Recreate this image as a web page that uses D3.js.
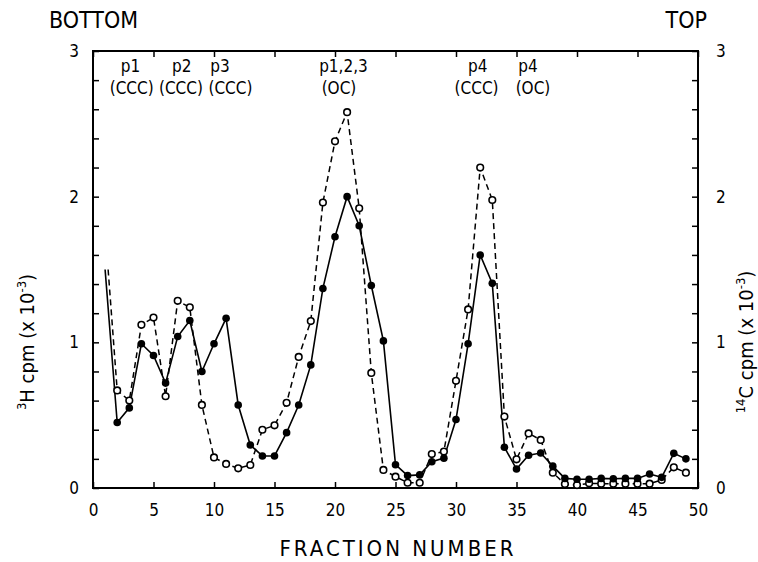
<!DOCTYPE html>
<html>
<head>
<meta charset="utf-8">
<script src="https://cdn.jsdelivr.net/npm/d3@7"></script>
<style>
  body { margin: 0; background: #fff; }
  svg text { font-family: "DejaVu Sans Condensed", "Liberation Sans Narrow", sans-serif; fill: #000; }
</style>
</head>
<body>
<div id="content"></div>
<script>
// fractions with markers
const fractions = [2, 3, 4, 5, 6, 7, 8, 9, 10, 11, 12, 13, 14, 15, 16, 17, 18, 19, 20, 21, 22, 23, 24, 25,
  26, 27, 28, 29, 30, 31, 32, 33, 34, 35, 36, 37, 38, 39, 40, 41, 42, 43, 44, 45, 46, 47, 48, 49];

// 3H (solid, filled dots)
const h3Start = [1.0, 1.5];
const h3 = [0.45, 0.55, 0.99, 0.91, 0.72, 1.04, 1.15, 0.80, 0.99, 1.165, 0.57, 0.295, 0.22, 0.22,
  0.38, 0.57, 0.845, 1.37, 1.725, 2.0, 1.80, 1.39, 1.01, 0.16, 0.085, 0.09, 0.18, 0.205, 0.47,
  0.99, 1.60, 1.405, 0.28, 0.13, 0.225, 0.24, 0.15, 0.066, 0.06, 0.06, 0.066, 0.064, 0.066, 0.066,
  0.096, 0.073, 0.238, 0.20];

// 14C (dashed, open dots)
const c14Start = [1.25, 1.5];
const c14 = [0.67, 0.60, 1.12, 1.17, 0.63, 1.285, 1.24, 0.57, 0.21, 0.165, 0.135, 0.158, 0.40, 0.43,
  0.585, 0.90, 1.146, 1.96, 2.38, 2.58, 1.92, 0.79, 0.124, 0.078, 0.036, 0.036, 0.233, 0.25, 0.736,
  1.226, 2.20, 1.977, 0.49, 0.197, 0.375, 0.33, 0.105, 0.027, 0.02, 0.032, 0.03, 0.03, 0.03, 0.03,
  0.03, 0.055, 0.142, 0.105];

const xTicks = [0, 5, 10, 15, 20, 25, 30, 35, 40, 45, 50];
const yLabels = [0, 1, 2, 3];
const yMinor = [0, 0.2, 0.4, 0.6, 0.8, 1, 1.2, 1.4, 1.6, 1.8, 2, 2.2, 2.4, 2.6, 2.8, 3];

// peak labels: fraction positions of the upper and lower line
const peakTop = ["p1", "p2", "p3", "p1,2,3", "p4", "p4"];
const peakTopAt = [3.1, 7.33, 10.5, 20.7, 31.8, 35.95];
const peakBottom = ["(CCC)", "(CCC)", "(CCC)", "(OC)", "(CCC)", "(OC)"];
const peakBottomAt = [3.2, 7.27, 11.36, 20.33, 31.7, 36.36];

const svg = d3.select("#content").append("svg")
  .attr("width", 758).attr("height", 562);

const margin = { top: 51, right: 60, bottom: 74, left: 93 };
const width = 758 - margin.left - margin.right;
const height = 562 - margin.top - margin.bottom;

const x = d3.scaleLinear().domain([0, 50]).range([0, width]);
const y = d3.scaleLinear().domain([0, 3]).range([height, 0]);

const g = svg.append("g")
  .attr("transform", `translate(${margin.left},${margin.top})`);

// frame
g.append("rect")
  .attr("width", width).attr("height", height)
  .attr("fill", "none").attr("stroke", "#000").attr("stroke-width", 2);

function styleAxis(sel) {
  sel.select(".domain").remove();
  sel.selectAll(".tick line").attr("stroke", "#000").attr("stroke-width", 1.5);
  sel.selectAll(".tick text").style("font-size", "17px");
}

g.append("g")
  .attr("transform", `translate(0,${height})`)
  .call(d3.axisBottom(x).tickValues(xTicks).tickSize(-6).tickPadding(16))
  .call(styleAxis);

g.append("g")
  .call(d3.axisTop(x).tickValues(xTicks).tickSize(-6).tickFormat(""))
  .call(styleAxis);

g.append("g")
  .call(d3.axisLeft(y).tickValues(yMinor).tickSize(-6).tickFormat(""))
  .call(styleAxis);

g.append("g")
  .attr("transform", `translate(${width},0)`)
  .call(d3.axisRight(y).tickValues(yMinor).tickSize(-6).tickFormat(""))
  .call(styleAxis);

g.append("g")
  .call(d3.axisLeft(y).tickValues(yLabels).tickSize(0).tickPadding(14).tickFormat(d3.format("d")))
  .call(styleAxis);

g.append("g")
  .attr("transform", `translate(${width},0)`)
  .call(d3.axisRight(y).tickValues(yLabels).tickSize(0).tickPadding(18).tickFormat(d3.format("d")))
  .call(styleAxis);

const h3Data = [h3Start].concat(fractions.map((f, i) => [f, h3[i]]));
const c14Data = [c14Start].concat(fractions.map((f, i) => [f, c14[i]]));

const line = d3.line().x(d => x(d[0])).y(d => y(d[1]));

g.append("path").datum(c14Data)
  .attr("fill", "none").attr("stroke", "#000").attr("stroke-width", 1.5)
  .attr("stroke-dasharray", "6,4").attr("d", line);

g.append("path").datum(h3Data)
  .attr("fill", "none").attr("stroke", "#000").attr("stroke-width", 1.6)
  .attr("d", line);

g.selectAll("circle.open").data(c14Data.slice(1)).enter().append("circle")
  .attr("class", "open")
  .attr("cx", d => x(d[0])).attr("cy", d => y(d[1])).attr("r", 3.3)
  .attr("fill", "#fff").attr("stroke", "#000").attr("stroke-width", 1.6);

g.selectAll("circle.filled").data(h3Data.slice(1)).enter().append("circle")
  .attr("class", "filled")
  .attr("cx", d => x(d[0])).attr("cy", d => y(d[1])).attr("r", 3.8)
  .attr("fill", "#000");

// peak labels
g.selectAll("text.ptop").data(peakTop).enter().append("text")
  .attr("class", "ptop")
  .attr("x", (d, i) => x(peakTopAt[i])).attr("y", 21)
  .attr("text-anchor", "middle").style("font-size", "17px").text(d => d);
g.selectAll("text.pbot").data(peakBottom).enter().append("text")
  .attr("class", "pbot")
  .attr("x", (d, i) => x(peakBottomAt[i])).attr("y", 43)
  .attr("text-anchor", "middle").style("font-size", "17px").text(d => d);

// titles
svg.append("text").attr("x", 49).attr("y", 28).style("font-size", "23px").text("BOTTOM");
svg.append("text").attr("x", 707).attr("y", 28).attr("text-anchor", "end")
  .style("font-size", "23px").text("TOP");

svg.append("text").attr("x", 398).attr("y", 556)
  .attr("text-anchor", "middle").style("font-size", "22px").style("letter-spacing", "3px")
  .text("FRACTION NUMBER");

const yl = svg.append("text")
  .attr("transform", "translate(34,342) rotate(-90)")
  .attr("text-anchor", "middle").style("font-size", "20px");
yl.append("tspan").attr("dy", "-8").style("font-size", "13px").text("3");
yl.append("tspan").attr("dy", "8").text("H cpm (x 10");
yl.append("tspan").attr("dy", "-8").style("font-size", "13px").text("-3");
yl.append("tspan").attr("dy", "8").text(")");

const yr = svg.append("text")
  .attr("transform", "translate(753,342) rotate(-90)")
  .attr("text-anchor", "middle").style("font-size", "20px");
yr.append("tspan").attr("dy", "-8").style("font-size", "13px").text("14");
yr.append("tspan").attr("dy", "8").text("C cpm (x 10");
yr.append("tspan").attr("dy", "-8").style("font-size", "13px").text("-3");
yr.append("tspan").attr("dy", "8").text(")");
</script>
</body>
</html>
